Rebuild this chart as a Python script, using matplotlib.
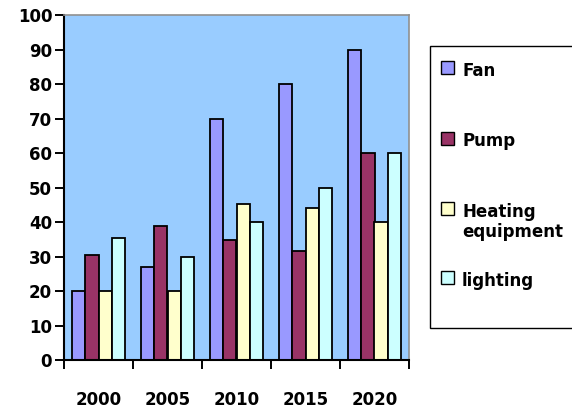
import matplotlib
matplotlib.use("Agg")
import matplotlib.pyplot as plt
from matplotlib.patches import Rectangle
import numpy as np

years = ["2000", "2005", "2010", "2015", "2020"]
series_names = ["Fan", "Pump", "Heating\nequipment", "lighting"]
fan = [20, 27, 70, 80, 90]
pump = [30.5, 38.7, 34.7, 31.7, 60]
heating = [20, 20, 45.2, 44, 40]
lighting = [35.3, 30, 40, 50, 60]
colors = ["#9999FF", "#993366", "#FFFFCC", "#CCFFFF"]
y_ticks = list(range(0, 101, 10))

plt.rcParams["font.family"] = ["DejaVu Sans"]
plt.rcParams["font.weight"] = "bold"
FS = 12

W, H = 572, 411
fig = plt.figure(figsize=(W / 100, H / 100), dpi=100)
ax = fig.add_axes([64 / W, 1 - 360 / H, 345 / W, 345 / H])
ax.set_facecolor("#99CCFF")

x = np.arange(len(years))
bw = 0.19
all_series = [fan, pump, heating, lighting]
for i, (vals, c) in enumerate(zip(all_series, colors)):
    ax.bar(x + (i - 1.5) * bw, vals, width=bw, color=c, edgecolor="black",
           linewidth=1.3, zorder=3)

ax.set_xlim(-0.5, len(years) - 0.5)
ax.set_ylim(0, 100)
ax.set_yticks(y_ticks)
ax.set_yticklabels([str(t) for t in y_ticks], fontsize=FS, fontweight="bold")
ax.set_xticks(x)
ax.set_xticklabels(years, fontsize=FS, fontweight="bold")
ax.set_xticks(np.arange(-0.5, len(years)), minor=True)
ax.tick_params(axis="x", which="major", length=0, pad=22)
ax.tick_params(axis="x", which="minor", length=6.5, width=1.4, direction="out")
ax.tick_params(axis="y", length=6.5, width=1.4, direction="out", pad=2)

for side in ["left", "bottom"]:
    ax.spines[side].set_linewidth(1.5)
    ax.spines[side].set_color("black")
for side in ["top", "right"]:
    ax.spines[side].set_linewidth(1.2)
    ax.spines[side].set_color("#909090")
ax.spines["bottom"].set_zorder(4)

# Legend box drawn in figure pixel space
def fx(px):
    return px / W

def fy(py):
    return 1 - py / H

fig.patches.append(Rectangle((fx(430), fy(328)), fx(600) - fx(430), fy(46) - fy(328),
                             transform=fig.transFigure, facecolor="white",
                             edgecolor="black", linewidth=1.0, zorder=1))
square_y = [67.5, 138, 208.7, 277]
line_gap = 20
for name, c, yy in zip(series_names, colors, square_y):
    fig.patches.append(Rectangle((fx(441), fy(yy + 6.5)), fx(13), 13 / H,
                                 transform=fig.transFigure, facecolor=c,
                                 edgecolor="black", linewidth=1.0, zorder=2))
    for k, line in enumerate(name.split("\n")):
        fig.text(fx(462), fy(yy + 1.5 + k * line_gap), line, ha="left",
                 va="center_baseline", fontsize=FS, fontweight="bold")

fig.savefig("out.png", dpi=100)
